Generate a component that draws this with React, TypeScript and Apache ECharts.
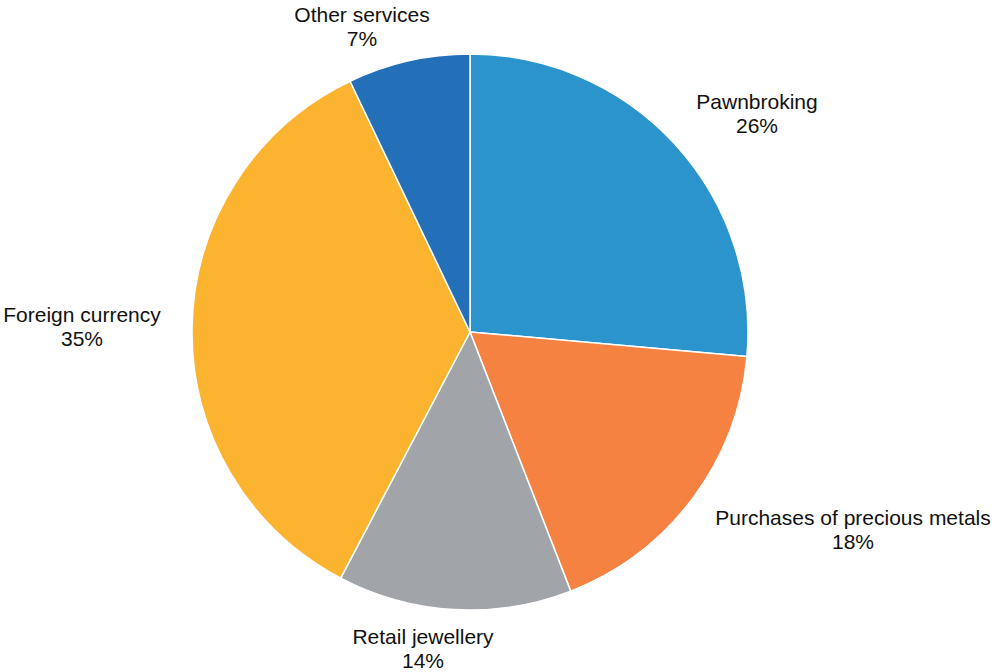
import React, { useEffect, useRef } from "react";
import * as echarts from "echarts";

const categories = [
  "Pawnbroking",
  "Purchases of precious metals",
  "Retail jewellery",
  "Foreign currency",
  "Other services",
];
const values = [26.4, 17.7, 13.6, 35.2, 7.1];
const colors = ["#2B94CD", "#F58240", "#A1A4A8", "#FCB32F", "#236FB8"];
// label text-block centres (layout only)
const labelCenters: [number, number][] = [
  [757, 113],
  [853, 529],
  [423, 648],
  [82, 326],
  [362, 26],
];

export default function App() {
  const ref = useRef<HTMLDivElement>(null);
  useEffect(() => {
    if (!ref.current) return;
    const chart = echarts.init(ref.current, null, { renderer: "svg" });
    chart.setOption({
      animation: false,
      backgroundColor: "#ffffff",
      series: [
        {
          type: "pie",
          center: [470, 332],
          radius: [0, 278],
          startAngle: 90,
          clockwise: true,
          data: categories.map((name, i) => ({
            name,
            value: values[i],
            itemStyle: { color: colors[i] },
          })),
          itemStyle: { borderColor: "#ffffff", borderWidth: 1.5 },
          label: {
            show: true,
            position: "outside",
            formatter: (p: any) => `${p.name}\n${Math.round(p.value)}%`,
            fontFamily: "Liberation Sans, Arial, sans-serif",
            fontSize: 21,
            lineHeight: 24,
            color: "#111111",
            align: "center",
            overflow: "none",
            width: 400,
          },
          labelLine: { show: false },
          labelLayout: (params: any) => {
            const c = labelCenters[params.dataIndex];
            return { x: c[0], y: c[1], align: "center", verticalAlign: "middle" };
          },
          emphasis: { disabled: true },
        },
      ],
    });
    return () => chart.dispose();
  }, []);
  return (
    <div
      ref={ref}
      style={{ position: "fixed", left: 0, top: 0, width: 994, height: 672 }}
    />
  );
}
